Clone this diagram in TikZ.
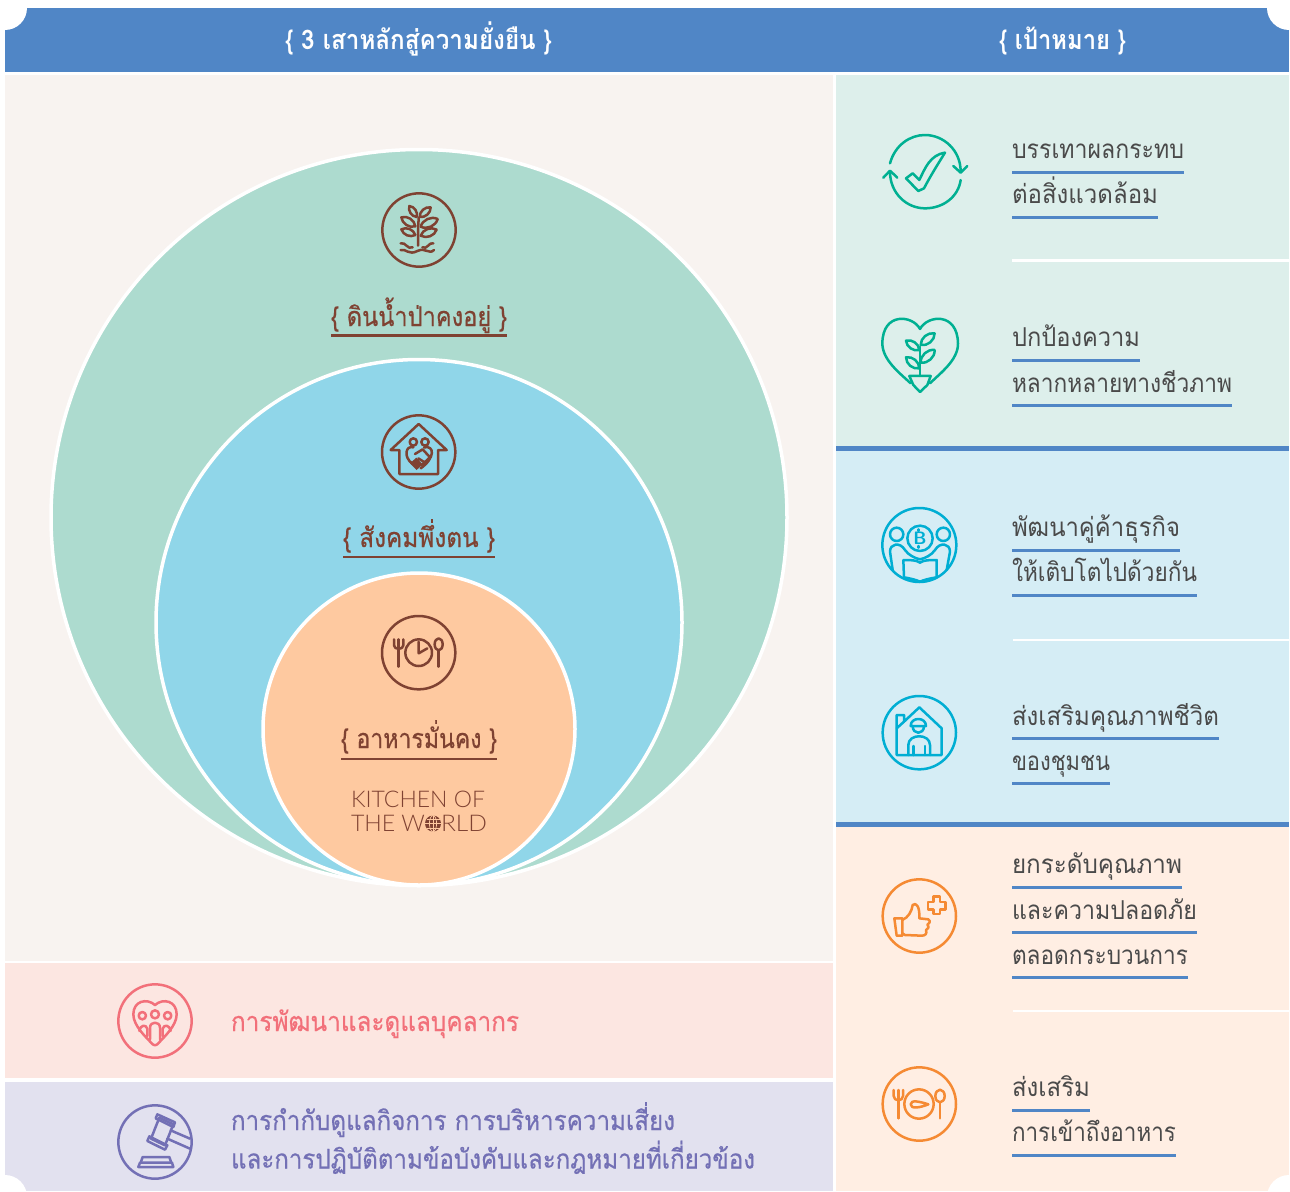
\documentclass[tikz,border=0pt]{standalone}
\usepackage{fontspec}
\usepackage{graphicx}
\newfontfamily\thaifont[Script=Thai]{Loma}
\newfontfamily\thaimed[Script=Thai,FakeBold=0.5]{Loma}
\newfontfamily\kfont{Lato}[UprightFont=* Light]
\definecolor{hblue}{HTML}{5086C6}
\definecolor{bgcream}{HTML}{F8F3F0}
\definecolor{pgreen}{HTML}{DDEFEB}
\definecolor{pblue}{HTML}{D5EDF5}
\definecolor{ppeach}{HTML}{FFEEE3}
\definecolor{ppink}{HTML}{FCE6E1}
\definecolor{ppurple}{HTML}{E2E1EF}
\definecolor{cgreen}{HTML}{ADDBCF}
\definecolor{cblue}{HTML}{90D6E9}
\definecolor{cpeach}{HTML}{FEC9A0}
\definecolor{brownc}{HTML}{7F4232}
\definecolor{tealc}{HTML}{00B092}
\definecolor{cyanc}{HTML}{00AED3}
\definecolor{orangec}{HTML}{F58A33}
\definecolor{pinkc}{HTML}{F2707A}
\definecolor{purplec}{HTML}{7370B5}
\definecolor{goaltext}{HTML}{4A4A4A}
\newcommand\fitx[3]{\resizebox{#1pt}{\height}{\fontsize{#2}{#2}\selectfont\thaifont #3}}
\newcommand\fitm[3]{\resizebox{#1pt}{\height}{\fontsize{#2}{#2}\selectfont\thaimed #3}}
\tikzset{
  label/.style={inner sep=0pt,outer sep=0pt,anchor=base west},
  uline/.style={line width=3pt,hblue},
  bline/.style={line width=2.8pt,brownc},
  icon/.style={line width=2.5pt,line cap=round,line join=round},
  sep/.style={line width=2.5pt,white},
  zoomed/.style={scale=0.33333},
}
% goal label with underline: name, underline y, right end, text
\newcommand\goal[4]{%
  \node[label,text=goaltext] (#1) at (1012,#2-13.5) {\fitx{\number\numexpr#3-1012\relax}{26}{#4}};
  \draw[uline] (1012,#2) -- (#3,#2);
}
\newcommand\lf[2]{#1 to[bend left=50] #2 to[bend left=50] #1}
\begin{document}
\begin{tikzpicture}[x=1pt,y=-1pt]
\useasboundingbox (0,0) rectangle (1290,1191);
\fill[white] (0,0) rectangle (1290,1191);
% panels
\fill[bgcream] (5,75) rectangle (833,960.5);
\fill[ppink] (5,963) rectangle (833,1078);
\fill[ppurple] (5,1082) rectangle (833,1191);
\fill[pgreen] (836,75) rectangle (1289,447);
\fill[pblue] (836,447) rectangle (1289,824);
\fill[ppeach] (836,824) rectangle (1289,1191);
\fill[hblue] (836,446) rectangle (1289,451);
\fill[hblue] (836,822) rectangle (1289,827);
\draw[sep] (1012,260.5) -- (1289,260.5);
\draw[sep] (1013,640) -- (1289,640);
\draw[sep] (1013,1011) -- (1289,1011);
% header
\fill[hblue] (5,8) rectangle (1289,72);
\fill[white] (5,8) circle (22);
\fill[white] (1289,8) circle (22);
\fill[white] (5,1197) circle (22);
\fill[white] (1289,1197) circle (22);
\fill[white] (0,0) rectangle (5,1191);
\fill[white] (1289,0) rectangle (1290,1191);
\fill[white] (0,0) rectangle (1290,8);
\node[label,text=white] (h1) at (285,49) {\fitx{267}{27}{\bfseries\{ 3 เสาหลักสู่ความยั่งยืน \}}};
\node[label,text=white] (h2) at (999,49) {\fitx{127}{27}{\bfseries\{ เป้าหมาย \}}};
% circles
\draw[white,line width=3.5pt,fill=cgreen] (419,517.5) circle (368);
\draw[white,line width=3.5pt,fill=cblue] (419,622.5) circle (263);
\draw[white,line width=3.5pt,fill=cpeach] (419,729) circle (156);
% pillar labels
\node[label,text=brownc] (p1) at (331,326) {\fitm{176}{27}{\{ ดินน้ำป่าคงอยู่ \}}};
\draw[bline] (331,335.5) -- (507,335.5);
\node[label,text=brownc] (p2) at (343,547) {\fitm{152}{27}{\{ สังคมพึ่งตน \}}};
\draw[bline] (343,557) -- (495,557);
\node[label,text=brownc] (p3) at (341,748) {\fitm{156}{27}{\{ อาหารมั่นคง \}}};
\draw[bline] (341,759) -- (497,759);
\node[label,text=brownc] (k1) at (351,807.5) {\resizebox{134pt}{\height}{\kfont\fontsize{23}{23}\selectfont KITCHEN OF}};
\node[label,text=brownc] (k2) at (351,831.5) {\resizebox{74pt}{\height}{\kfont\fontsize{23}{23}\selectfont THE W}};
\node[label,text=brownc] (k3) at (441,831.5) {\resizebox{46pt}{\height}{\kfont\fontsize{23}{23}\selectfont RLD}};
\fill[brownc] (433,823.5) circle (8);
\begin{scope}[cpeach,line width=0.7pt]
\draw (433,815.5) -- (433,831.5);
\draw (425,823.5) -- (441,823.5);
\draw (433,823.5) ellipse (3.6 and 8);
\draw (426.5,819) -- (439.5,819) (426.5,828) -- (439.5,828);
\end{scope}
% tree icon
\begin{scope}[shift={(374,185)},zoomed,brownc,icon]
\draw (135,135) circle (110);
\draw (132,182) -- (132,140) .. controls (132,120) and (134,110) .. (134,98);
\draw \lf{(128,96)}{(106,63)};
\draw \lf{(170,67)}{(137,96)};
\draw \lf{(124,124)}{(82,97)};
\draw \lf{(191,102)}{(140,125)};
\draw \lf{(124,150)}{(82,133)};
\draw \lf{(188,134)}{(140,152)};
\draw (80,175) .. controls (95,170) and (100,195) .. (116,187);
\draw (145,187) .. controls (160,195) and (165,170) .. (178,175);
\draw (80,195) .. controls (95,190) and (105,212) .. (130,198) .. controls (155,186) and (165,210) .. (180,195);
\end{scope}
% house handshake icon
\begin{scope}[shift={(300,400)},zoomed,brownc,icon]
\draw (356,156) circle (110);
\draw (272,150) -- (356,72) -- (440,150) -- (414,150) -- (414,222) -- (298,222) -- (298,150) -- cycle;
\draw (340,126) circle (11) (375,126) circle (11);
\draw (340,142) .. controls (318,135) and (308,170) .. (338,192);
\draw (372,142) .. controls (405,135) and (405,175) .. (362,205);
\fill (330,190) -- (349,173) -- (368,193) -- (350,210) -- cycle;
\draw (345,162) -- (368,148) -- (390,172) -- (365,195);
\draw (355,175) -- (378,190);
\end{scope}
% clock icon
\begin{scope}[shift={(300,600)},zoomed,brownc,icon]
\draw (356,158) circle (110);
\draw (296,200) -- (296,118);
\draw (282,118) -- (282,136) .. controls (282,150) and (310,150) .. (310,136) -- (310,118);
\draw (356,158) circle (40);
\draw (356,125) -- (356,160) -- (382,145);
\draw (416,133) ellipse (12 and 18);
\draw (416,152) -- (416,200);
\end{scope}
% recycle check icon
\begin{scope}[shift={(840,0)},zoomed,tealc,icon]
\draw (150,490) .. controls (165,435) and (210,405) .. (255,405) .. controls (310,405) and (362,450) .. (362,515);
\draw (340,498) -- (362,518) -- (382,498);
\draw (362,540) .. controls (355,590) and (310,625) .. (255,625) .. controls (200,625) and (150,580) .. (150,515);
\draw (130,533) -- (150,512) -- (172,533);
\draw (198,535) -- (218,520) -- (238,540) .. controls (255,505) and (270,465) .. (315,458) .. controls (295,490) and (270,530) .. (252,565) -- (235,573) -- cycle;
\end{scope}
% heart plant icon
\begin{scope}[shift={(840,0)},zoomed,tealc,icon]
\draw (240,987) .. controls (262,945) and (352,935) .. (354,1030) .. controls (355,1080) and (300,1120) .. (270,1150);
\draw (240,987) .. controls (218,945) and (128,935) .. (127,1030) .. controls (127,1080) and (180,1120) .. (212,1150);
\draw (208,1128) -- (272,1128) -- (262,1155) -- (240,1176) -- (220,1155) -- cycle;
\draw (240,1128) -- (240,1040);
\draw \lf{(284,1000)}{(242,1035)};
\draw \lf{(238,1050)}{(198,1022)};
\draw \lf{(284,1050)}{(242,1088)};
\draw \lf{(238,1105)}{(198,1072)};
\end{scope}
% partner icon
\begin{scope}[shift={(840,480)},zoomed,cyanc,icon]
\draw (238,195) circle (111);
\draw (240,175) circle (38);
\draw (170,163) circle (20) (310,163) circle (20);
\node[text=cyanc,inner sep=0pt,font=\fontsize{18}{18}\selectfont\bfseries\sffamily] (bb) at (240,176) {B};
\draw (236,148) -- (236,153) (236,198) -- (236,203);
\draw (158,270) -- (150,215) .. controls (150,190) and (180,185) .. (195,210) .. controls (205,225) and (225,235) .. (240,238) .. controls (255,235) and (275,225) .. (285,210) .. controls (300,185) and (330,190) .. (330,215) -- (320,270);
\draw (190,240) -- (192,292) .. controls (210,295) and (230,300) .. (240,305) .. controls (250,300) and (270,295) .. (290,292) -- (290,240) .. controls (270,240) and (250,240) .. (240,248) .. controls (230,240) and (210,240) .. (190,240);
\end{scope}
% community house icon
\begin{scope}[shift={(840,480)},zoomed,cyanc,icon]
\draw (238,758) circle (110);
\draw (170,825) -- (305,825) -- (305,745) -- (238,682) -- (192,725) -- (192,705) -- (170,705) -- cycle;
\draw (170,745) -- (192,725);
\draw (212,738) .. controls (212,710) and (258,710) .. (258,738) -- cycle;
\draw (218,738) .. controls (218,765) and (252,765) .. (252,738);
\draw (205,825) -- (205,795) .. controls (205,760) and (270,760) .. (270,795) -- (270,825);
\draw (220,825) -- (220,798) (255,825) -- (255,798);
\end{scope}
% thumbs icon
\begin{scope}[shift={(840,840)},zoomed,orangec,icon]
\draw (238,228) circle (110);
\draw (163,235) -- (187,235) -- (187,287) -- (170,287) -- cycle;
\draw (187,240) .. controls (205,232) and (215,215) .. (218,195) .. controls (228,185) and (240,200) .. (238,235) -- (265,238) .. controls (275,245) and (265,252) .. (262,254) .. controls (270,262) and (262,268) .. (258,270) .. controls (262,282) and (255,287) .. (245,287) -- (195,285) -- (187,280);
\draw (280,170) -- (300,170) -- (300,186) -- (316,186) -- (316,208) -- (300,208) -- (300,222) -- (280,222) -- (280,208) -- (264,208) -- (264,186) -- (280,186) -- cycle;
\end{scope}
% plate icon
\begin{scope}[shift={(840,840)},zoomed,orangec,icon]
\draw (238,792) circle (110);
\draw (175,835) -- (175,750);
\draw (161,750) -- (161,768) .. controls (161,785) and (189,785) .. (189,768) -- (189,750);
\draw (237,792) circle (44);
\draw (212,793) .. controls (212,778) and (240,785) .. (265,793) .. controls (240,803) and (212,808) .. (212,793);
\draw (300,768) ellipse (14 and 19);
\draw (300,787) -- (300,835);
\end{scope}
% people heart icon
\begin{scope}[shift={(110,976)},zoomed,pinkc,icon]
\draw (135,135) circle (110);
\draw (135,87) .. controls (110,65) and (70,75) .. (70,115) .. controls (70,150) and (110,185) .. (128,205) .. controls (133,209) and (137,209) .. (142,205) .. controls (160,185) and (200,150) .. (200,115) .. controls (200,75) and (160,65) .. (135,87) -- cycle;
\draw (97,119) circle (11) (135,115) circle (12) (173,119) circle (11);
\draw (120,190) -- (120,155) .. controls (120,135) and (150,135) .. (150,155) -- (150,190);
\draw (88,165) .. controls (92,145) and (108,145) .. (112,158) -- (112,180);
\draw (182,165) .. controls (178,145) and (162,145) .. (158,158) -- (158,180);
\end{scope}
% gavel icon
\begin{scope}[shift={(110,1097)},zoomed,purplec,icon]
\draw (135,135) circle (110);
\draw (148,62) -- (190,82) -- (165,145) -- (123,125) -- cycle;
\draw (142,52) -- (195,76) -- (190,90) -- (137,64) -- cycle;
\draw (118,118) -- (172,145) -- (165,158) -- (112,132) -- cycle;
\draw (182,100) -- (240,125) (172,125) -- (240,155);
\draw (85,210) -- (190,210) -- (186,197) -- (90,197) -- cycle;
\draw (92,197) -- (98,180) -- (178,180) -- (184,197);
\end{scope}
% goal labels
\goal{g1}{172}{1184}{บรรเทาผลกระทบ}
\goal{g2}{217}{1158}{ต่อสิ่งแวดล้อม}
\goal{g3}{360}{1140}{ปกป้องความ}
\goal{g4}{405.5}{1232}{หลากหลายทางชีวภาพ}
\goal{g5}{550}{1180}{พัฒนาคู่ค้าธุรกิจ}
\goal{g6}{595}{1197}{ให้เติบโตไปด้วยกัน}
\goal{g7}{738.5}{1219}{ส่งเสริมคุณภาพชีวิต}
\goal{g8}{783.5}{1110}{ของชุมชน}
\goal{g9}{887}{1182}{ยกระดับคุณภาพ}
\goal{g10}{932.5}{1197}{และความปลอดภัย}
\goal{g11}{977.5}{1188}{ตลอดกระบวนการ}
\goal{g12}{1110}{1090}{ส่งเสริม}
\goal{g13}{1155}{1176}{การเข้าถึงอาหาร}
% left labels
\node[label,text=pinkc] (l1) at (231,1031) {\fitm{288}{27}{การพัฒนาและดูแลบุคลากร}};
\node[label,text=purplec] (l2) at (231,1130) {\fitm{444}{27}{การกำกับดูแลกิจการ การบริหารความเสี่ยง}};
\node[label,text=purplec] (l3) at (231,1168.5) {\fitm{524}{27}{และการปฏิบัติตามข้อบังคับและกฎหมายที่เกี่ยวข้อง}};
\end{tikzpicture}
\end{document}
